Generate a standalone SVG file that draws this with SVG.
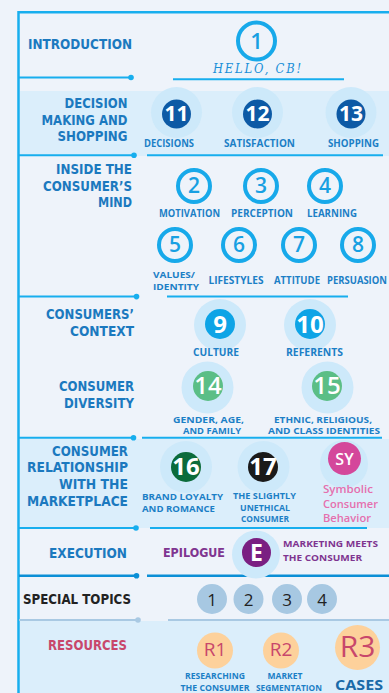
<svg xmlns="http://www.w3.org/2000/svg" width="389" height="693" viewBox="0 0 389 693">
<style>
.bg{fill:#eef3fa}
.band{fill:#dbeefb}
.halo{fill:#cde9fa}
.frame{fill:none;stroke:#17aeee;stroke-width:2.5}
.sep{stroke:#17aeee;stroke-width:2;fill:none}
.sepdk{stroke:#0b8fd6;stroke-width:2.5;fill:none}
.seppale{stroke:#a9c9e3;stroke-width:2;fill:none}
.dot{fill:#17aeee}
.dotdk{fill:#0b8fd6}
.dotpale{fill:#a9c9e3}
.head{font-family:"DejaVu Sans","Open Sans",sans-serif;font-weight:700;font-size:13.5px;fill:#1b79bf;text-anchor:end}
.lbl{font-family:"Open Sans","DejaVu Sans",sans-serif;font-weight:700;font-size:10px;fill:#1c7fc6;text-anchor:middle}
.ml{font-size:8.5px}
.lbl-s{text-anchor:start}
.ring{fill:none;stroke:#17a9ea;stroke-width:4}
.ringnum{font-family:"Open Sans","DejaVu Sans",sans-serif;font-weight:600;font-size:22px;fill:#17a0e2;text-anchor:middle}
.num{font-family:"Open Sans","DejaVu Sans",sans-serif;font-weight:700;font-size:22px;fill:#fff;text-anchor:middle}
.st{font-family:"Open Sans","DejaVu Sans",sans-serif;font-weight:400;font-size:17px;fill:#222;text-anchor:middle}
.res{font-family:"Open Sans","DejaVu Sans",sans-serif;font-weight:400;fill:#c8476b;text-anchor:middle}
</style>
<rect class="bg" x="0" y="0" width="389" height="693"/>
<g id="bands">
<rect class="band" x="20" y="91" width="369" height="65"/>
<rect class="band" x="20" y="439" width="369" height="89"/>
<rect class="band" x="20" y="621" width="369" height="72"/>
</g>
<path class="frame" d="M18.5 693 V12.3 H389"/>

<g id="connectors">
<line class="sep" x1="19" y1="77.5" x2="131" y2="77.5"/><circle class="dot" cx="131" cy="77.5" r="2.8"/>
<line class="sep" x1="173" y1="79.3" x2="344" y2="79.3"/>
<line class="sep" x1="19" y1="155.3" x2="134" y2="155.3"/><circle class="dot" cx="134" cy="155.3" r="2.8"/>
<line class="sep" x1="147" y1="155.3" x2="383" y2="155.3"/>
<line class="sep" x1="19" y1="296.6" x2="136.5" y2="296.6"/><circle class="dot" cx="136.5" cy="296.6" r="2.8"/>
<line class="sep" x1="167" y1="296.6" x2="348" y2="296.6"/>
<line class="sep" x1="19" y1="437.7" x2="133.5" y2="437.7"/><circle class="dot" cx="133.5" cy="437.7" r="2.8"/>
<line class="sep" x1="142" y1="437.7" x2="382" y2="437.7"/>
<line class="sep" x1="19" y1="528" x2="136" y2="528"/><circle class="dot" cx="136" cy="528" r="2.8"/>
<line class="sep" x1="150" y1="528" x2="367" y2="528"/>
<line class="sepdk" x1="19" y1="575.7" x2="136.5" y2="575.7"/><circle class="dotdk" cx="136.5" cy="575.7" r="2.8"/>
<line class="sepdk" x1="147" y1="575.7" x2="389" y2="575.7"/>
<line class="seppale" x1="19" y1="620" x2="138" y2="620"/><circle class="dotpale" cx="138" cy="620" r="2.8"/>
<line class="seppale" x1="168" y1="620" x2="389" y2="620"/>
</g>

<g id="introduction">
<text class="head" x="132" y="49" textLength="104" lengthAdjust="spacingAndGlyphs" style="font-size:14px">INTRODUCTION</text>
</g>
<g id="ch1">
<circle class="ring" cx="256.5" cy="41" r="18.5"/>
<text class="ringnum" x="256.5" y="48.5">1</text>
<text x="213" y="72.5" textLength="90" lengthAdjust="spacingAndGlyphs" style="font-family:'DejaVu Serif',serif;font-style:italic;font-size:12.5px;fill:#1a8fd8;letter-spacing:2px">HELLO, CB!</text>
</g>

<g id="decision-making">
<text class="head" x="127.5" y="108" textLength="63" lengthAdjust="spacingAndGlyphs">DECISION</text>
<text class="head" x="127.5" y="124.5" textLength="86" lengthAdjust="spacingAndGlyphs">MAKING AND</text>
<text class="head" x="127.5" y="141" textLength="70" lengthAdjust="spacingAndGlyphs">SHOPPING</text>
</g>
<g id="ch11">
<circle class="halo" cx="176.5" cy="112.5" r="25.5"/>
<circle cx="176.5" cy="114" r="14.5" fill="#0d5aa5"/>
<text class="num" x="176.5" y="120.7" style="font-size:21px">11</text>
<text class="lbl" x="169" y="146.5" textLength="50" lengthAdjust="spacingAndGlyphs">DECISIONS</text>
</g>
<g id="ch12">
<circle class="halo" cx="257.5" cy="112.5" r="25.5"/>
<circle cx="257.5" cy="114" r="14.5" fill="#0d5aa5"/>
<text class="num" x="257.5" y="120.7" style="font-size:21px">12</text>
<text class="lbl" x="259.5" y="146.5" textLength="71" lengthAdjust="spacingAndGlyphs">SATISFACTION</text>
</g>
<g id="ch13">
<circle class="halo" cx="351" cy="112.5" r="25.5"/>
<circle cx="351" cy="114" r="14.5" fill="#0d5aa5"/>
<text class="num" x="351" y="120.7" style="font-size:21px">13</text>
<text class="lbl" x="353.5" y="146.5" textLength="51" lengthAdjust="spacingAndGlyphs">SHOPPING</text>
</g>

<g id="inside-mind">
<text class="head" x="132" y="174" textLength="76" lengthAdjust="spacingAndGlyphs">INSIDE THE</text>
<text class="head" x="132" y="190.5" textLength="89" lengthAdjust="spacingAndGlyphs">CONSUMER’S</text>
<text class="head" x="132" y="207" textLength="34" lengthAdjust="spacingAndGlyphs">MIND</text>
</g>
<g id="ch2">
<circle class="ring" cx="194" cy="186" r="16"/>
<text class="ringnum" x="194" y="192.5" style="font-size:21px">2</text>
<text class="lbl" x="189.5" y="217" textLength="61" lengthAdjust="spacingAndGlyphs">MOTIVATION</text>
</g>
<g id="ch3">
<circle class="ring" cx="261" cy="186" r="16"/>
<text class="ringnum" x="261" y="192.5" style="font-size:21px">3</text>
<text class="lbl" x="262" y="217" textLength="62" lengthAdjust="spacingAndGlyphs">PERCEPTION</text>
</g>
<g id="ch4">
<circle class="ring" cx="325" cy="186" r="16"/>
<text class="ringnum" x="325" y="192.5" style="font-size:21px">4</text>
<text class="lbl" x="332" y="217" textLength="50" lengthAdjust="spacingAndGlyphs">LEARNING</text>
</g>
<g id="ch5">
<circle class="ring" cx="175" cy="245" r="16"/>
<text class="ringnum" x="175" y="251.5" style="font-size:21px">5</text>
<text class="lbl lbl-s ml" x="153" y="278" textLength="42" lengthAdjust="spacingAndGlyphs">VALUES/</text>
<text class="lbl lbl-s ml" x="153" y="289.5" textLength="46" lengthAdjust="spacingAndGlyphs">IDENTITY</text>
</g>
<g id="ch6">
<circle class="ring" cx="239" cy="245" r="16"/>
<text class="ringnum" x="239" y="251.5" style="font-size:21px">6</text>
<text class="lbl" x="236" y="284" textLength="55" lengthAdjust="spacingAndGlyphs">LIFESTYLES</text>
</g>
<g id="ch7">
<circle class="ring" cx="299" cy="245" r="16"/>
<text class="ringnum" x="299" y="251.5" style="font-size:21px">7</text>
<text class="lbl" x="297" y="284" textLength="46" lengthAdjust="spacingAndGlyphs">ATTITUDE</text>
</g>
<g id="ch8">
<circle class="ring" cx="358" cy="245" r="16"/>
<text class="ringnum" x="358" y="251.5" style="font-size:21px">8</text>
<text class="lbl" x="357" y="284" textLength="60" lengthAdjust="spacingAndGlyphs">PERSUASION</text>
</g>

<g id="consumers-context">
<text class="head" x="134" y="319" textLength="88" lengthAdjust="spacingAndGlyphs">CONSUMERS’</text>
<text class="head" x="134" y="335.5" textLength="64" lengthAdjust="spacingAndGlyphs">CONTEXT</text>
</g>
<g id="ch9">
<circle class="halo" cx="220" cy="325" r="26"/>
<circle cx="220" cy="324" r="15" fill="#0ea4e6"/>
<text class="num" x="220" y="333" style="font-size:24px">9</text>
<text class="lbl" x="216" y="355.5" textLength="46" lengthAdjust="spacingAndGlyphs">CULTURE</text>
</g>
<g id="ch10">
<circle class="halo" cx="310" cy="325" r="26"/>
<circle cx="310" cy="324" r="15" fill="#0ea4e6"/>
<text class="num" x="310" y="333" style="font-size:24px">10</text>
<text class="lbl" x="314.5" y="355.5" textLength="57" lengthAdjust="spacingAndGlyphs">REFERENTS</text>
</g>

<g id="consumer-diversity">
<text class="head" x="134" y="391" textLength="75" lengthAdjust="spacingAndGlyphs">CONSUMER</text>
<text class="head" x="134" y="407.5" textLength="70" lengthAdjust="spacingAndGlyphs">DIVERSITY</text>
</g>
<g id="ch14">
<circle class="halo" cx="207.5" cy="387.5" r="26"/>
<circle cx="208" cy="386" r="15" fill="#5bbe86"/>
<text class="num" x="208" y="394" style="font-size:24px;font-weight:600">14</text>
<text class="lbl ml" x="208.5" y="423" textLength="71" lengthAdjust="spacingAndGlyphs">GENDER, AGE,</text>
<text class="lbl ml" x="212" y="434" textLength="58" lengthAdjust="spacingAndGlyphs">AND FAMILY</text>
</g>
<g id="ch15">
<circle class="halo" cx="327.5" cy="387.5" r="26"/>
<circle cx="327" cy="386" r="15" fill="#5bbe86"/>
<text class="num" x="327" y="394" style="font-size:24px;font-weight:600">15</text>
<text class="lbl ml" x="323" y="423" textLength="98" lengthAdjust="spacingAndGlyphs">ETHNIC, RELIGIOUS,</text>
<text class="lbl ml" x="324" y="434" textLength="112" lengthAdjust="spacingAndGlyphs">AND CLASS IDENTITIES</text>
</g>

<g id="consumer-relationship">
<text class="head" x="128" y="455.5" textLength="76" lengthAdjust="spacingAndGlyphs">CONSUMER</text>
<text class="head" x="128" y="472" textLength="101" lengthAdjust="spacingAndGlyphs">RELATIONSHIP</text>
<text class="head" x="128" y="489" textLength="69" lengthAdjust="spacingAndGlyphs">WITH THE</text>
<text class="head" x="128" y="506" textLength="101" lengthAdjust="spacingAndGlyphs">MARKETPLACE</text>
</g>
<g id="ch16">
<circle class="halo" cx="186" cy="467" r="26"/>
<circle cx="186" cy="467" r="15" fill="#0b6b3b"/>
<text class="num" x="186" y="475" style="font-size:24px">16</text>
<text class="lbl lbl-s ml" x="142" y="500" textLength="81" lengthAdjust="spacingAndGlyphs">BRAND LOYALTY</text>
<text class="lbl lbl-s ml" x="142" y="511.5" textLength="73" lengthAdjust="spacingAndGlyphs">AND ROMANCE</text>
</g>
<g id="ch17">
<circle class="halo" cx="263.5" cy="467" r="26"/>
<circle cx="263" cy="467" r="15" fill="#1a1a1a"/>
<text class="num" x="263" y="475" style="font-size:24px">17</text>
<text class="lbl ml" x="264.5" y="499" textLength="63" lengthAdjust="spacingAndGlyphs">THE SLIGHTLY</text>
<text class="lbl ml" x="265" y="510.5" textLength="50" lengthAdjust="spacingAndGlyphs">UNETHICAL</text>
<text class="lbl ml" x="265" y="522" textLength="48" lengthAdjust="spacingAndGlyphs">CONSUMER</text>
</g>
<g id="chSY">
<circle class="halo" cx="344" cy="464" r="24"/>
<circle cx="344.5" cy="458.5" r="16.5" fill="#d4479b"/>
<text class="num" x="344.5" y="464.5" style="font-size:16px;font-weight:600">SY</text>
<g style="font-family:'Open Sans','DejaVu Sans',sans-serif;font-weight:600;font-size:11.5px;fill:#e56fae">
<text x="323" y="492.5" textLength="50" lengthAdjust="spacingAndGlyphs">Symbolic</text>
<text x="323" y="508" textLength="55" lengthAdjust="spacingAndGlyphs">Consumer</text>
<text x="323" y="522" textLength="48" lengthAdjust="spacingAndGlyphs">Behavior</text>
</g>
</g>

<g id="execution">
<text class="head" x="127" y="558" textLength="78" lengthAdjust="spacingAndGlyphs" style="font-size:14px">EXECUTION</text>
</g>
<g id="epilogue">
<text x="163" y="557" textLength="62" lengthAdjust="spacingAndGlyphs" style="font-family:'DejaVu Sans',sans-serif;font-weight:700;font-size:12.5px;fill:#7f3590">EPILOGUE</text>
<circle class="halo" cx="256" cy="554.5" r="24"/>
<circle cx="256.5" cy="552.5" r="14.5" fill="#7a1f82"/>
<text class="num" x="256.5" y="561" style="font-size:23px">E</text>
<text class="lbl lbl-s ml" x="283" y="546.5" textLength="95" lengthAdjust="spacingAndGlyphs" style="fill:#7f3590">MARKETING MEETS</text>
<text class="lbl lbl-s ml" x="283" y="560.5" textLength="79" lengthAdjust="spacingAndGlyphs" style="fill:#7f3590">THE CONSUMER</text>
</g>

<g id="special-topics">
<text class="head" x="131" y="604" textLength="108" lengthAdjust="spacingAndGlyphs" style="fill:#222;font-size:14px">SPECIAL TOPICS</text>
</g>
<g id="st1"><circle cx="212" cy="599" r="15" fill="#a7c8e2"/><text class="st" x="212" y="605.5">1</text></g>
<g id="st2"><circle cx="248.5" cy="599" r="15" fill="#a7c8e2"/><text class="st" x="248.5" y="605.5">2</text></g>
<g id="st3"><circle cx="287" cy="599" r="15" fill="#a7c8e2"/><text class="st" x="287" y="605.5">3</text></g>
<g id="st4"><circle cx="322" cy="599" r="15" fill="#a7c8e2"/><text class="st" x="322" y="605.5">4</text></g>

<g id="resources">
<text class="head" x="127" y="650" textLength="79" lengthAdjust="spacingAndGlyphs" style="fill:#c8476b;font-size:14px">RESOURCES</text>
</g>
<g id="r1">
<circle cx="215" cy="650.5" r="18" fill="#fdd19b"/>
<text class="res" x="215" y="655.5" style="font-size:19px">R1</text>
<text class="lbl ml" x="215" y="679" textLength="60" lengthAdjust="spacingAndGlyphs">RESEARCHING</text>
<text class="lbl ml" x="215" y="691" textLength="69" lengthAdjust="spacingAndGlyphs">THE CONSUMER</text>
</g>
<g id="r2">
<circle cx="281" cy="650.5" r="18" fill="#fdd19b"/>
<text class="res" x="281" y="655.5" style="font-size:19px">R2</text>
<text class="lbl ml" x="285" y="679">MARKET</text>
<text class="lbl ml" x="289" y="691" textLength="66" lengthAdjust="spacingAndGlyphs">SEGMENTATION</text>
</g>
<g id="r3">
<circle cx="357.5" cy="647.5" r="22.5" fill="#fdd19b"/>
<text class="res" x="357.5" y="657" style="font-size:30px">R3</text>
<text x="335" y="690" textLength="48" lengthAdjust="spacingAndGlyphs" style="font-family:'Open Sans','DejaVu Sans',sans-serif;font-weight:700;font-size:15px;fill:#1a6aa8">CASES</text>
</g>
</svg>
